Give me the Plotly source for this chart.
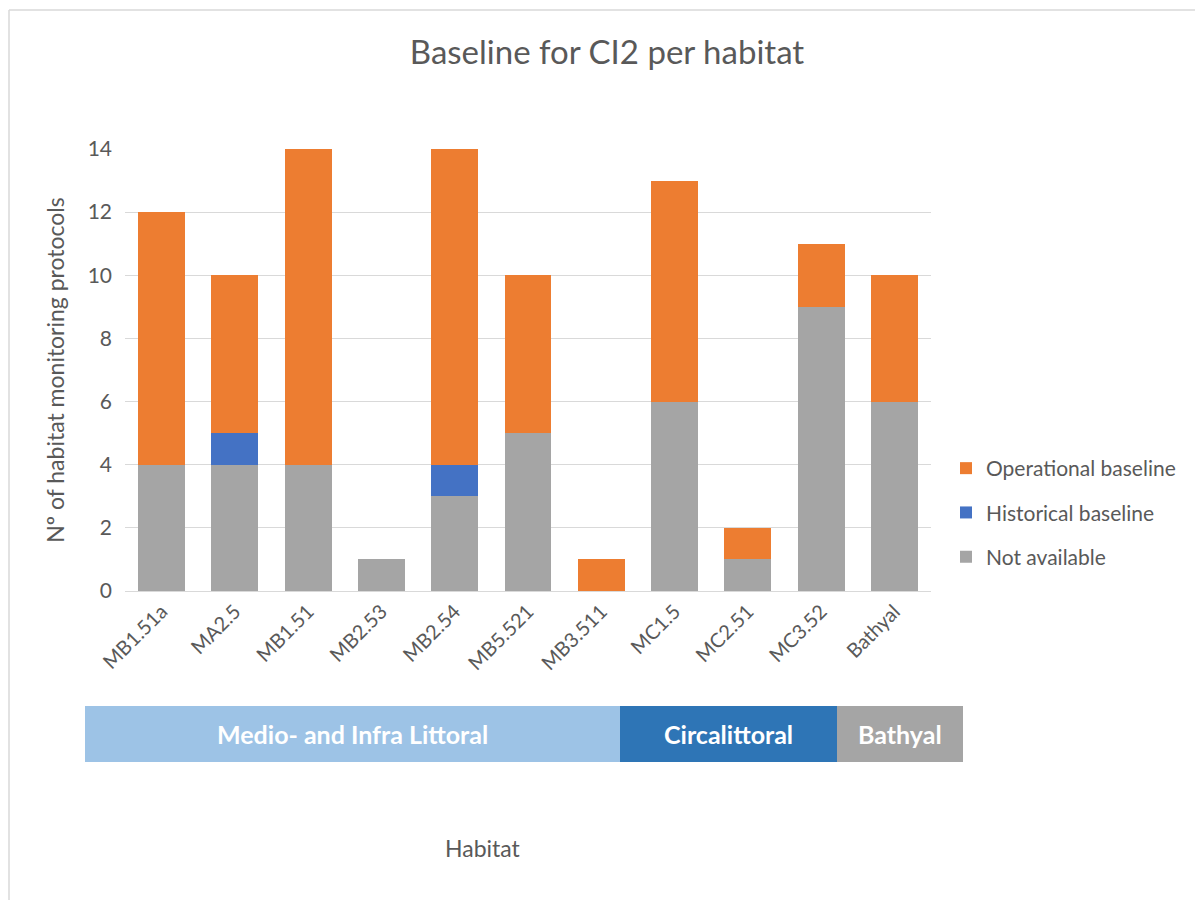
import plotly.graph_objects as go

categories = ["MB1.51a", "MA2.5", "MB1.51", "MB2.53", "MB2.54", "MB5.521",
              "MB3.511", "MC1.5", "MC2.51", "MC3.52", "Bathyal"]
not_available = [4, 4, 4, 1, 3, 5, 0, 6, 1, 9, 6]
historical = [0, 1, 0, 0, 1, 0, 0, 0, 0, 0, 0]
operational = [8, 5, 10, 0, 10, 5, 1, 7, 1, 2, 4]

zones = ["Medio- and Infra Littoral", "Circalittoral", "Bathyal"]
zone_px = [(85, 620), (620, 837), (837, 963)]
zone_colors = ["#9DC3E6", "#2E75B6", "#A5A5A5"]

FONT = "Lato"
TXT = "#595959"
W, H = 1195, 900
L, R, T, B = 125, 264, 149, 309
pw = W - L - R
ph = H - T - B

fig = go.Figure()
fig.add_trace(go.Bar(x=categories, y=not_available, name="Not available",
                     marker=dict(color="#A5A5A5", line=dict(width=0)),
                     legendgroup="c", legendrank=3))
fig.add_trace(go.Bar(x=categories, y=historical, name="Historical baseline",
                     marker=dict(color="#4472C4", line=dict(width=0)),
                     legendgroup="b", legendrank=2))
fig.add_trace(go.Bar(x=categories, y=operational, name="Operational baseline",
                     marker=dict(color="#ED7D31", line=dict(width=0)),
                     legendgroup="a", legendrank=1))

def px2x(p):
    return (p - L) / pw

def py2y(p):
    return (H - B - p) / ph

shapes = []
annotations = []
for name, (x0, x1), col in zip(zones, zone_px, zone_colors):
    shapes.append(dict(type="rect", xref="paper", yref="paper",
                       x0=px2x(x0), x1=px2x(x1), y0=py2y(762), y1=py2y(706),
                       fillcolor=col, line=dict(width=0), layer="above"))
    annotations.append(dict(xref="paper", yref="paper", x=(px2x(x0) + px2x(x1)) / 2,
                            y=(py2y(762) + py2y(706)) / 2, text="<b>%s</b>" % name,
                            showarrow=False, font=dict(family=FONT, size=25, color="white"),
                            xanchor="center", yanchor="middle"))

# chart border (top and left)
shapes.append(dict(type="line", xref="paper", yref="paper", x0=px2x(9), x1=px2x(1195),
                   y0=py2y(10), y1=py2y(10), line=dict(color="#D9D9D9", width=1.5)))
shapes.append(dict(type="line", xref="paper", yref="paper", x0=px2x(9), x1=px2x(9),
                   y0=py2y(10), y1=py2y(900), line=dict(color="#D9D9D9", width=1.5)))

annotations.append(dict(xref="paper", yref="paper", x=px2x(483), y=py2y(848), text="Habitat",
                        showarrow=False, font=dict(family=FONT, size=23, color=TXT),
                        xanchor="center", yanchor="middle"))

fig.update_layout(
    width=W, height=H,
    margin=dict(l=L, r=R, t=T, b=B),
    barmode="stack", bargap=0.36,
    plot_bgcolor="white", paper_bgcolor="white",
    font=dict(family=FONT, color=TXT, size=20),
    title=dict(text="Baseline for CI2 per habitat", x=607 / W,
               xanchor="center", y=1 - 52 / H, yanchor="middle",
               font=dict(family=FONT, size=33, color=TXT)),
    legend=dict(x=px2x(946), y=py2y(448), xanchor="left", yanchor="top",
                traceorder="grouped", tracegroupgap=14, itemwidth=30,
                font=dict(family=FONT, size=21, color=TXT), bgcolor="rgba(0,0,0,0)"),
    shapes=shapes, annotations=annotations,
    xaxis=dict(tickangle=-45, tickfont=dict(family=FONT, size=20, color=TXT),
               showline=True, linecolor="#D9D9D9", linewidth=1, ticks="", showgrid=False),
    yaxis=dict(range=[0, 14], dtick=2, showgrid=True, gridcolor="#D9D9D9", gridwidth=1,
               zeroline=False, showline=False, ticks="", ticklabelstandoff=12,
               tickfont=dict(family=FONT, size=21, color=TXT),
               title=dict(text="Nº of habitat monitoring protocols", standoff=16,
                          font=dict(family=FONT, size=23, color=TXT))),
)

fig.write_html("out.html")
